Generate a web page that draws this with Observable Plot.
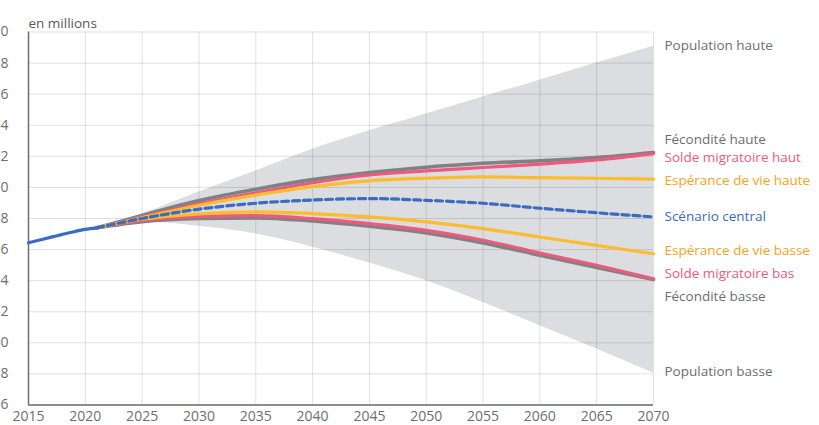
<!DOCTYPE html>
<html><head><meta charset="utf-8">
<script src="https://cdn.jsdelivr.net/npm/d3@7"></script>
<script src="https://cdn.jsdelivr.net/npm/@observablehq/plot@0.6"></script>
<style>
body{margin:0;background:#fff;}
#chart{position:relative;width:819px;height:425px;overflow:hidden;}
</style>
</head><body><div id="chart"></div>
<script>
// Historical population (millions)
const histYears  = [2015, 2016, 2017, 2018, 2019, 2020, 2021];
const histValues = [66.44, 66.62, 66.80, 66.98, 67.15, 67.30, 67.40];

// Projection years
const projYears = [2021, 2025, 2030, 2035, 2040, 2045, 2050, 2055, 2060, 2065, 2070];

// Scenario values (millions)
const populationHaute      = [67.4, 68.30, 69.70, 71.06, 72.46, 73.65, 74.72, 75.82, 76.90, 78.00, 79.09];
const populationBasse      = [67.4, 67.77, 67.50, 67.00, 66.15, 65.14, 64.00, 62.60, 61.10, 59.60, 58.05];
const feconditeHaute       = [67.4, 68.20, 69.15, 69.88, 70.50, 70.95, 71.30, 71.55, 71.72, 71.93, 72.25];
const soldeMigratoireHaut  = [67.4, 68.10, 68.95, 69.65, 70.30, 70.80, 71.06, 71.28, 71.50, 71.77, 72.18];
const esperanceVieHaute    = [67.4, 68.05, 68.85, 69.50, 70.05, 70.42, 70.59, 70.68, 70.63, 70.59, 70.53];
const scenarioCentral      = [67.4, 68.00, 68.60, 68.98, 69.19, 69.28, 69.17, 68.98, 68.66, 68.37, 68.10];
const esperanceVieBasse    = [67.4, 67.95, 68.30, 68.43, 68.32, 68.10, 67.78, 67.35, 66.81, 66.27, 65.73];
const soldeMigratoireBas   = [67.4, 67.88, 68.12, 68.18, 67.99, 67.67, 67.24, 66.60, 65.78, 64.99, 64.13];
const feconditeBasse       = [67.4, 67.80, 68.00, 68.04, 67.84, 67.50, 67.07, 66.43, 65.63, 64.84, 64.07];

// Right-hand labels: text, anchor value (millions), colour
const labelTexts  = ["Population haute", "Fécondité haute", "Solde migratoire haut", "Espérance de vie haute",
                     "Scénario central", "Espérance de vie basse", "Solde migratoire bas", "Fécondité basse", "Population basse"];
const labelValues = [79.15, 73.1, 71.9, 70.45, 68.1, 65.9, 64.45, 62.95, 58.15];
const labelColors = ["#6d6e71", "#6d6e71", "#ec5b7d", "#f5a31a", "#3a6cc0", "#f5a31a", "#ec5b7d", "#6d6e71", "#6d6e71"];

const xTicks = d3.range(2015, 2071, 5);
const yTicks = d3.range(56, 81, 2);

const GRAY = "#808184", PINK = "#ec5b7d", YELLOW = "#fcbc2c", BLUE = "#3a6cc0";

const band = projYears.map((y, i) => ({year: y, lo: populationBasse[i], hi: populationHaute[i]}));
const series = (vals) => projYears.map((y, i) => ({year: y, value: vals[i]}));
const hist = histYears.map((y, i) => ({year: y, value: histValues[i]}));
const labels = labelTexts.map((t, i) => ({text: t, value: labelValues[i], color: labelColors[i]}));

const curve = "monotone-x";
const lw = 3.2;

const chart = Plot.plot({
  width: 819,
  height: 425,
  marginLeft: 28,
  marginRight: 166,
  marginTop: 31.5,
  marginBottom: 20.5,
  style: {fontFamily: "'Open Sans', sans-serif", fontSize: "14px", color: "#6d6e71", background: "#fff", overflow: "visible"},
  x: {domain: [2015, 2070], ticks: xTicks, tickFormat: d => String(d), tickSize: 0, tickPadding: 6, label: null},
  y: {domain: [56, 80], ticks: yTicks, tickSize: 0, tickPadding: 20, label: null},
  marks: [
    Plot.areaY(band, {x: "year", y1: "lo", y2: "hi", fill: "#dcdde0", curve}),
    Plot.gridX(xTicks, {stroke: "#000", strokeOpacity: 0.12, strokeWidth: 1}),
    Plot.gridY(yTicks, {stroke: "#000", strokeOpacity: 0.12, strokeWidth: 1}),
    Plot.ruleX([2015], {stroke: "#6d6e71", strokeWidth: 1.5}),
    Plot.ruleY([56], {stroke: "#6d6e71", strokeWidth: 1.5}),
    Plot.lineY(series(feconditeHaute), {x: "year", y: "value", stroke: GRAY, strokeWidth: lw + 0.4, curve}),
    Plot.lineY(series(feconditeBasse), {x: "year", y: "value", stroke: GRAY, strokeWidth: lw + 0.4, curve}),
    Plot.lineY(series(soldeMigratoireHaut), {x: "year", y: "value", stroke: PINK, strokeWidth: lw, curve}),
    Plot.lineY(series(soldeMigratoireBas), {x: "year", y: "value", stroke: PINK, strokeWidth: lw, curve}),
    Plot.lineY(series(esperanceVieHaute), {x: "year", y: "value", stroke: YELLOW, strokeWidth: lw, curve}),
    Plot.lineY(series(esperanceVieBasse), {x: "year", y: "value", stroke: YELLOW, strokeWidth: lw, curve}),
    Plot.lineY(series(scenarioCentral), {x: "year", y: "value", stroke: BLUE, strokeWidth: lw, strokeDasharray: "7,4", curve}),
    Plot.lineY(hist, {x: "year", y: "value", stroke: BLUE, strokeWidth: lw, curve}),
    Plot.text(labels, {x: () => 2070, y: "value", text: "text", fill: "color", textAnchor: "start", dx: 11, fontSize: 13.5}),
    Plot.text(["en millions"], {frameAnchor: "top-left", dy: -14, textAnchor: "start", fill: "#58595b", fontSize: 13.5})
  ]
});
document.getElementById("chart").appendChild(chart);
</script>
</body></html>
